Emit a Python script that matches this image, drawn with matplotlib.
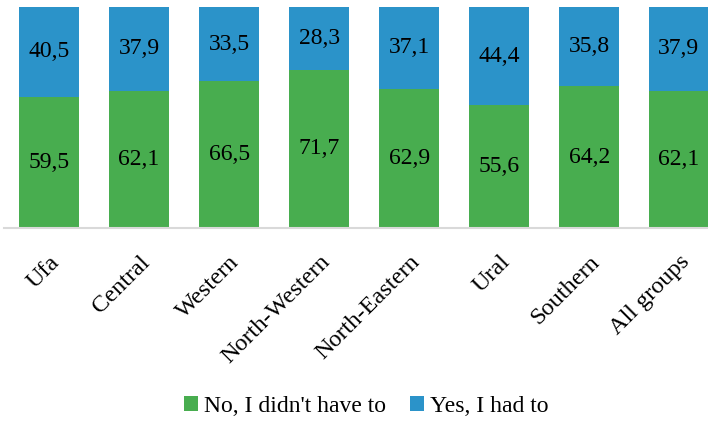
import matplotlib.pyplot as plt
import numpy as np

regions = ['Ufa', 'Central', 'Western', 'North-Western', 'North-Eastern',
           'Ural', 'Southern', 'All groups']
no_had = [59.5, 62.1, 66.5, 71.7, 62.9, 55.6, 64.2, 62.1]
yes_had = [40.5, 37.9, 33.5, 28.3, 37.1, 44.4, 35.8, 37.9]

green = '#48AD4F'
blue = '#2B93C9'

plt.rcParams['font.family'] = ['Liberation Serif', 'DejaVu Serif']

fig = plt.figure(figsize=(7.08, 4.22), dpi=100)
ax = fig.add_axes([4 / 708, (422 - 228) / 422, 704 / 708, 221 / 422])

x = np.arange(len(regions))
b1 = ax.bar(x, no_had, width=0.667, color=green, label="No, I didn't have to")
b2 = ax.bar(x, yes_had, width=0.667, bottom=no_had, color=blue, label='Yes, I had to')

def fmt(v):
    return f'{v:.1f}'.replace('.', ',')

for bars, vals in ((b1, no_had), (b2, yes_had)):
    ax.bar_label(bars, labels=[fmt(v) for v in vals], label_type='center',
                 fontsize=17, color='black')

ax.set_xlim(-0.5, 7.32)
ax.set_ylim(0, 100)
ax.set_yticks([])
ax.set_xticks(x)
ax.set_xticklabels(regions, rotation=45, ha='right', rotation_mode='anchor',
                   fontsize=17.5)
ax.tick_params(axis='x', length=0, pad=17)
for side in ('top', 'right', 'left'):
    ax.spines[side].set_visible(False)
ax.spines['bottom'].set_color('#D9D9D9')
ax.spines['bottom'].set_linewidth(1.5)

fig.legend(loc='center', bbox_to_anchor=(366 / 708, 1 - 406 / 422), ncol=2,
           frameon=False, fontsize=17, handlelength=0.6, handleheight=0.6,
           handletextpad=0.25, columnspacing=1.0)

fig.savefig('out.png', dpi=100)
